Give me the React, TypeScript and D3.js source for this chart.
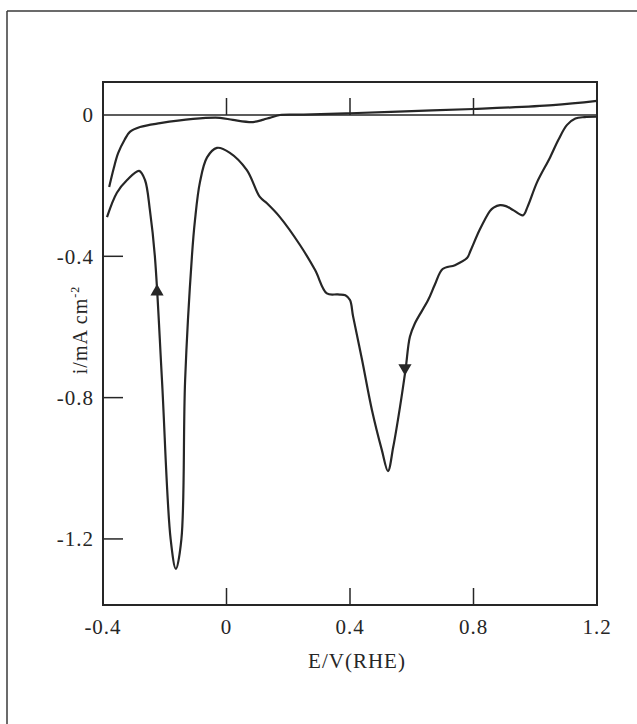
import React from 'react';
import * as d3 from 'd3';

// cathodic sweep, from 1.2 V down to -0.4 V
const cathodicE = [1.197, 1.16, 1.13, 1.103, 1.075, 1.048, 1.006, 0.975, 0.96, 0.93, 0.905, 0.886, 0.865, 0.853, 0.82, 0.79, 0.779, 0.74, 0.7, 0.675, 0.653, 0.61, 0.594, 0.58, 0.562, 0.54, 0.523, 0.503, 0.471, 0.439, 0.41, 0.4, 0.385, 0.36, 0.325, 0.287, 0.238, 0.173, 0.131, 0.108, 0.066, 0.011, -0.031, -0.063, -0.086, -0.102, -0.112, -0.134, -0.146, -0.164, -0.181, -0.209, -0.232, -0.248, -0.264, -0.283, -0.322, -0.355, -0.387];
const cathodicI = [-0.005, -0.006, -0.01, -0.028, -0.07, -0.12, -0.19, -0.26, -0.284, -0.27, -0.258, -0.255, -0.262, -0.272, -0.325, -0.385, -0.405, -0.425, -0.436, -0.48, -0.524, -0.59, -0.628, -0.72, -0.826, -0.94, -1.008, -0.948, -0.835, -0.693, -0.57, -0.524, -0.51, -0.508, -0.505, -0.439, -0.368, -0.289, -0.25, -0.232, -0.156, -0.107, -0.093, -0.12, -0.19, -0.297, -0.4, -0.75, -1.2, -1.285, -1.2, -0.75, -0.4, -0.27, -0.184, -0.158, -0.184, -0.22, -0.289];

// anodic sweep, from -0.4 V up to 1.2 V
const anodicE = [-0.38, -0.365, -0.351, -0.33, -0.313, -0.28, -0.215, -0.108, -0.021, 0.021, 0.086, 0.12, 0.14, 0.173, 0.25, 0.4, 0.6, 0.8, 1.057, 1.2];
const anodicI = [-0.204, -0.15, -0.108, -0.07, -0.048, -0.034, -0.023, -0.011, -0.008, -0.014, -0.02, -0.013, -0.008, 0, 0.001, 0.005, 0.011, 0.017, 0.028, 0.04];

// sweep direction arrows: [E, i]
const arrowUp = [-0.225, -0.5];
const arrowDown = [0.578, -0.716];

const xTicks = [-0.4, 0, 0.4, 0.8, 1.2];
const yTicks = [0, -0.4, -0.8, -1.2];

const ink = '#262626';
const font = '"Liberation Serif", "DejaVu Serif", serif';

export default function App() {
  const x = d3.scaleLinear().domain([-0.4, 1.2]).range([103, 597]);
  const y = d3.scaleLinear().domain([0.0934, -1.387]).range([82, 605]);

  const line = d3.line<[number, number]>()
    .x(d => x(d[0]))
    .y(d => y(d[1]))
    .curve(d3.curveCatmullRom.alpha(0.5));

  const cathodic = cathodicE.map((e, k) => [e, cathodicI[k]] as [number, number]);
  const anodic = anodicE.map((e, k) => [e, anodicI[k]] as [number, number]);
  const tri = d3.symbol(d3.symbolTriangle, 75)();

  const [x0, x1] = x.range();
  const [y0, y1] = y.range();

  return (
    <svg width={637} height={724} style={{ position: 'absolute', left: 0, top: 0, background: '#fff' }}>
      {/* page frame */}
      <line x1={7} y1={11} x2={637} y2={11} stroke="#3a3a3a" strokeWidth={1.5} />
      <line x1={7} y1={11} x2={7} y2={724} stroke="#3a3a3a" strokeWidth={1.5} />

      {/* zero line */}
      <line x1={x0} x2={x1} y1={y(0)} y2={y(0)} stroke={ink} strokeWidth={1.5} />

      {/* ticks */}
      {xTicks.slice(1, -1).map(t => (
        <g key={'xt' + t}>
          <line x1={x(t)} x2={x(t)} y1={y1} y2={y1 - 17} stroke={ink} strokeWidth={1.5} />
          <line x1={x(t)} x2={x(t)} y1={y(0)} y2={y(0) - 17} stroke={ink} strokeWidth={1.5} />
        </g>
      ))}
      {yTicks.slice(1).map(t => (
        <line key={'yt' + t} x1={x0} x2={x0 + 20} y1={y(t)} y2={y(t)} stroke={ink} strokeWidth={1.5} />
      ))}

      {/* curves */}
      <path d={line(cathodic) || ''} fill="none" stroke={ink} strokeWidth={2.2} strokeLinejoin="round" />
      <path d={line(anodic) || ''} fill="none" stroke={ink} strokeWidth={2.2} />

      <path d={tri || ''} fill={ink} transform={`translate(${x(arrowUp[0])},${y(arrowUp[1])})`} />
      <path d={tri || ''} fill={ink} transform={`translate(${x(arrowDown[0])},${y(arrowDown[1])}) rotate(180)`} />

      {/* plot frame */}
      <rect x={x0} y={y0} width={x1 - x0} height={y1 - y0} fill="none" stroke={ink} strokeWidth={2} />

      {/* labels */}
      <g fontFamily={font} fontSize={21} fill={ink} letterSpacing={1}>
        {xTicks.map(t => (
          <text key={'xl' + t} x={x(t)} y={634} textAnchor="middle">{String(t)}</text>
        ))}
        {yTicks.map(t => (
          <text key={'yl' + t} x={94} y={y(t)} dy="0.35em" textAnchor="end">{String(t)}</text>
        ))}
        <text x={357} y={668} textAnchor="middle">E/V(RHE)</text>
        <text transform="translate(87,330) rotate(-90)" textAnchor="middle" fontSize={20} letterSpacing={1}>
          i/mA cm<tspan fontSize={12} dy={-8}>-2</tspan>
        </text>
      </g>
    </svg>
  );
}
